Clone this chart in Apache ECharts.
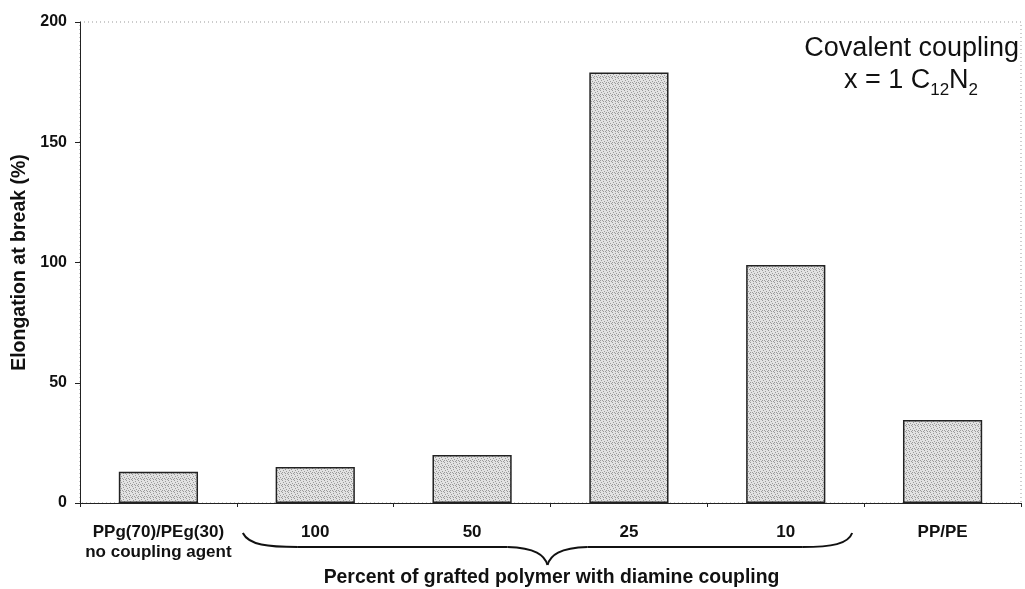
<!DOCTYPE html>
<html>
<head>
<meta charset="utf-8">
<script src="https://cdn.jsdelivr.net/npm/echarts@6/dist/echarts.min.js"></script>
<style>
html,body{margin:0;padding:0;background:#fff;}
#c{width:1025px;height:589px;}
</style>
</head>
<body>
<div id="c"></div>
<script>
const categories = ['PPg(70)/PEg(30)\nno coupling agent', '100', '50', '25', '10', 'PP/PE'];
const elongation = [13, 15, 20, 179, 99, 34.5];
const yTicks = { min: 0, max: 200, interval: 50 };
const yTitle = 'Elongation at break (%)';
const xTitle = 'Percent of grafted polymer with diamine coupling';
const noteLine1 = 'Covalent coupling';
const noteLine2 = [['x = 1 C', false], ['12', true], ['N', false], ['2', true]];

(function () {
const tex = document.createElement('canvas');
tex.width = 6; tex.height = 6;
const tc = tex.getContext('2d');
tc.fillStyle = '#e2e2e2'; tc.fillRect(0, 0, 6, 6);
tc.fillStyle = '#9a9a9a';
[[0,0],[3,1],[1,2],[4,3],[2,4],[5,5],[0,4],[3,5]].forEach(p => tc.fillRect(p[0], p[1], 1, 1));

const FONT = '"Liberation Sans", Arial, sans-serif';
const chart = echarts.init(document.getElementById('c'));
chart.setOption({
  animation: false,
  backgroundColor: '#fff',
  grid: { left: 80, right: 4, top: 22, bottom: 86, show: true, borderColor: '#999', borderWidth: 1, borderType: [1, 3] },
  xAxis: {
    type: 'category',
    data: categories,
    axisLine: { lineStyle: { color: '#222', width: 1 } },
    axisTick: { show: true, interval: 0, length: 4, lineStyle: { color: '#222' } },
    axisLabel: { interval: 0, hideOverlap: false, fontFamily: FONT, fontWeight: 'bold', fontSize: 17, color: '#111', margin: 19, lineHeight: 20 },
    splitLine: { show: false }
  },
  yAxis: {
    type: 'value',
    min: yTicks.min, max: yTicks.max, interval: yTicks.interval,
    name: yTitle,
    nameLocation: 'middle',
    nameGap: 48,
    nameTextStyle: { fontFamily: FONT, fontWeight: 'bold', fontSize: 19.5, color: '#111' },
    axisLine: { show: true, lineStyle: { color: '#222', width: 1 } },
    axisTick: { show: true, length: 5, lineStyle: { color: '#222' } },
    axisLabel: { fontFamily: FONT, fontWeight: 'bold', fontSize: 16, color: '#111', margin: 13 },
    splitLine: { show: false }
  },
  series: [{
    type: 'bar',
    data: elongation,
    barWidth: '50.5%',
    itemStyle: { color: { image: tex, repeat: 'repeat' }, borderColor: '#222', borderWidth: 1.5 }
  }]
});

const x1 = chart.convertToPixel({ xAxisIndex: 0 }, 1);
const x4 = chart.convertToPixel({ xAxisIndex: 0 }, 4);
const step = x4 - chart.convertToPixel({ xAxisIndex: 0 }, 3);
const L = x1 - step / 2 + 6, R = x4 + step / 2 - 12, M = (L + R) / 2;
const yTop = 533, flat = 547, tip = 565;
const ls = { stroke: '#111', lineWidth: 2, fill: null };

const mc = document.createElement('canvas').getContext('2d');
const mainSize = 27, subSize = 17;
const parts = noteLine2.map(([t, sub]) => {
  mc.font = (sub ? subSize : mainSize) + 'px "Liberation Sans", Arial, sans-serif';
  return { t, sub, w: mc.measureText(t).width };
});
const total = parts.reduce((s, p) => s + p.w, 0);
let cx = 911 - total / 2;
const noteEls = parts.map(p => {
  const el = {
    type: 'text', x: cx, y: p.sub ? 90 : 81,
    style: { text: p.t, fontFamily: FONT, fontSize: p.sub ? subSize : mainSize, fill: '#111', align: 'left', verticalAlign: 'middle' }
  };
  cx += p.w;
  return el;
});

chart.setOption({
  graphic: [
    { type: 'bezierCurve', shape: { x1: L, y1: yTop, cpx1: L + 6, cpy1: flat - 2, cpx2: L + 25, cpy2: flat, x2: L + 55, y2: flat }, style: ls },
    { type: 'line', shape: { x1: L + 55, y1: flat, x2: M - 40, y2: flat }, style: ls },
    { type: 'bezierCurve', shape: { x1: M - 40, y1: flat, cpx1: M - 12, cpy1: flat + 1, cpx2: M - 3, cpy2: flat + 8, x2: M, y2: tip }, style: ls },
    { type: 'bezierCurve', shape: { x1: M, y1: tip, cpx1: M + 3, cpy1: flat + 8, cpx2: M + 12, cpy2: flat + 1, x2: M + 40, y2: flat }, style: ls },
    { type: 'line', shape: { x1: M + 40, y1: flat, x2: R - 50, y2: flat }, style: ls },
    { type: 'bezierCurve', shape: { x1: R - 50, y1: flat, cpx1: R - 20, cpy1: flat, cpx2: R - 4, cpy2: flat - 3, x2: R, y2: yTop }, style: ls },
    {
      type: 'text', x: M + 4, y: 578,
      style: { text: xTitle, fontFamily: FONT, fontWeight: 'bold', fontSize: 19.4, fill: '#111', align: 'center', verticalAlign: 'middle' }
    },
    {
      type: 'text', x: 1019, y: 49,
      style: { text: noteLine1, fontFamily: FONT, fontSize: mainSize, fill: '#111', align: 'right', verticalAlign: 'middle' }
    }
  ].concat(noteEls)
});
})();
</script>
</body>
</html>
